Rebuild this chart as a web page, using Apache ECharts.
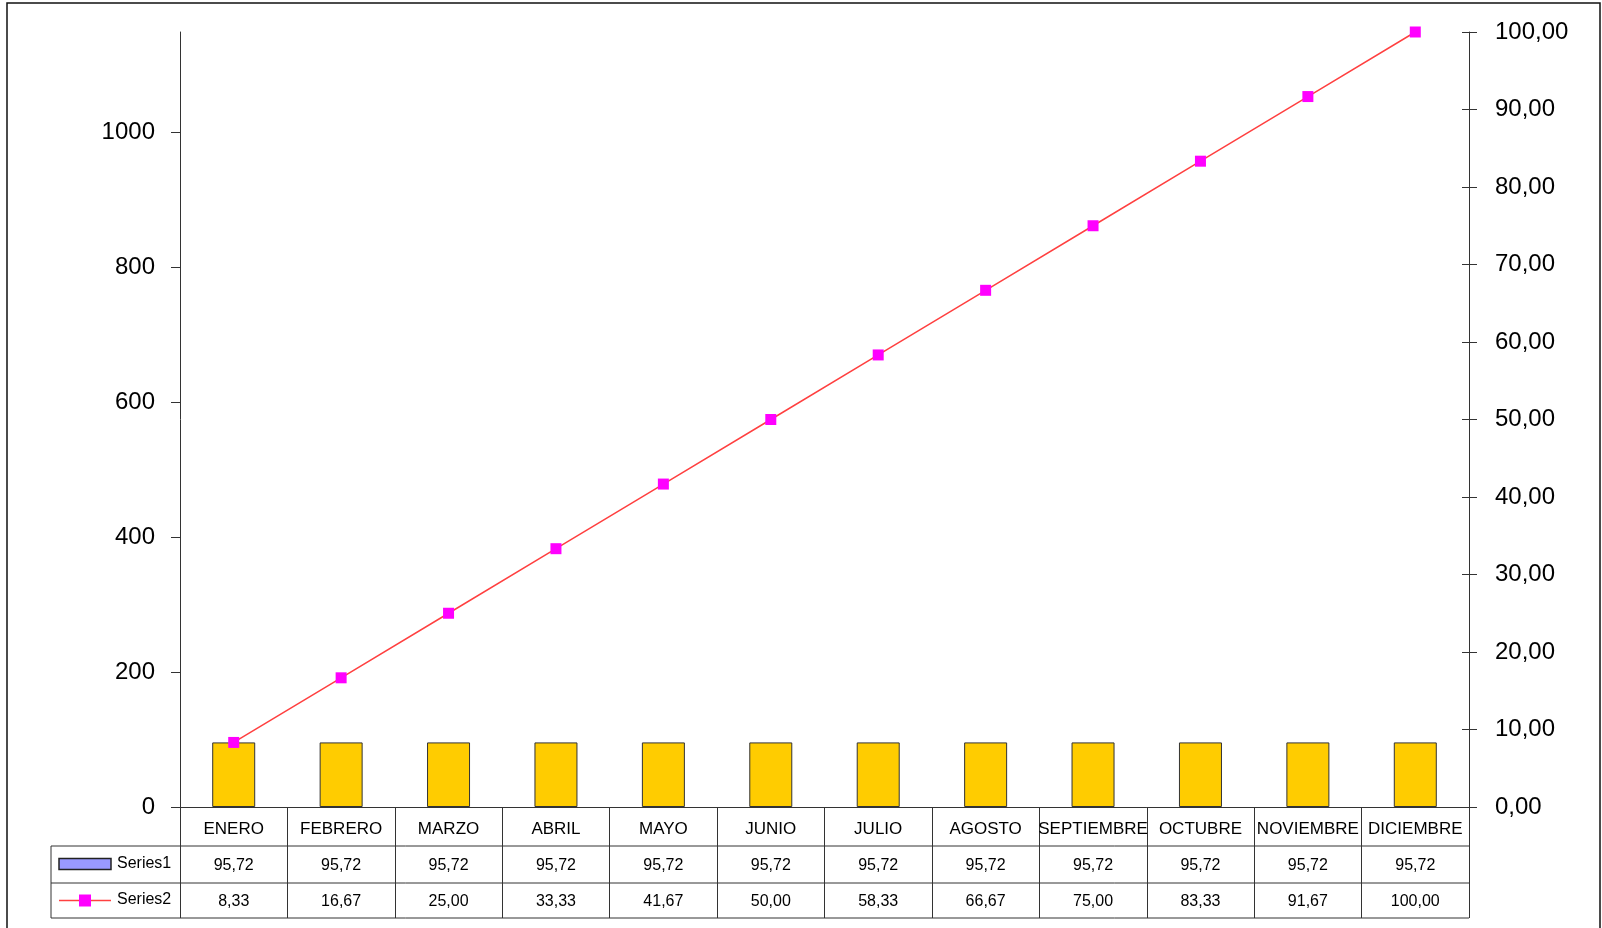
<!DOCTYPE html>
<html>
<head>
<meta charset="utf-8">
<script src="https://cdn.jsdelivr.net/npm/echarts@6/dist/echarts.min.js"></script>
<style>
  html, body { margin: 0; padding: 0; background: #fff; }
  #chart { width: 1602px; height: 928px; }
</style>
</head>
<body>
<div id="chart"></div>
<script>
var months = ['ENERO', 'FEBRERO', 'MARZO', 'ABRIL', 'MAYO', 'JUNIO', 'JULIO', 'AGOSTO', 'SEPTIEMBRE', 'OCTUBRE', 'NOVIEMBRE', 'DICIEMBRE'];
var series1 = [95.72, 95.72, 95.72, 95.72, 95.72, 95.72, 95.72, 95.72, 95.72, 95.72, 95.72, 95.72];
var series2 = [8.33, 16.67, 25.00, 33.33, 41.67, 50.00, 58.33, 66.67, 75.00, 83.33, 91.67, 100.00];
var leftTicks = [0, 200, 400, 600, 800, 1000];
var leftMax = 1148.64;
var rightTicks = [0, 10, 20, 30, 40, 50, 60, 70, 80, 90, 100];

var font = '"Liberation Sans", Arial, sans-serif';
var lineCol = '#333';

function comma(v) {
    return v.toFixed(2).replace('.', ',');
}

var chart = echarts.init(document.getElementById('chart'));

var option = {
    animation: false,
    backgroundColor: '#fff',
    textStyle: { fontFamily: font },
    grid: { left: 180, right: 133, top: 32, bottom: 121 },
    xAxis: {
        type: 'category',
        data: months,
        axisLine: { lineStyle: { color: lineCol, width: 1 } },
        axisTick: { show: true, length: 111, alignWithLabel: false, lineStyle: { color: lineCol } },
        axisLabel: {
            interval: 0,
            margin: 14,
            fontSize: 17,
            fontFamily: font,
            color: '#000'
        }
    },
    yAxis: [
        {
            type: 'value',
            min: 0,
            max: leftMax,
            position: 'left',
            splitLine: { show: false },
            axisLine: { show: true, lineStyle: { color: lineCol } },
            axisTick: { show: true, length: 9, customValues: leftTicks, lineStyle: { color: lineCol } },
            axisLabel: {
                customValues: leftTicks, margin: 25, fontSize: 24, fontFamily: font, color: '#000',
                formatter: function (v) { return String(v); }
            }
        },
        {
            type: 'value',
            min: 0,
            max: 100,
            interval: 10,
            position: 'right',
            splitLine: { show: false },
            axisLine: { show: true, lineStyle: { color: lineCol } },
            axisTick: { show: true, length: 8, customValues: rightTicks, lineStyle: { color: lineCol } },
            axisLabel: { customValues: rightTicks, margin: 26, fontSize: 24, fontFamily: font, color: '#000', formatter: function (v) { return comma(v); } }
        },
        {
            // inner half of the crossing ticks on the right axis
            type: 'value',
            min: 0,
            max: 100,
            interval: 10,
            position: 'right',
            splitLine: { show: false },
            axisLine: { show: false },
            axisTick: { show: true, inside: true, length: 7, customValues: rightTicks, lineStyle: { color: lineCol } },
            axisLabel: { show: false }
        }
    ],
    series: [
        {
            name: 'Series1',
            type: 'bar',
            yAxisIndex: 0,
            data: series1,
            barWidth: 43,
            itemStyle: { color: '#FFCC00', borderColor: '#333', borderWidth: 1 }
        },
        {
            name: 'Series2',
            type: 'line',
            yAxisIndex: 1,
            data: series2,
            symbol: 'rect',
            symbolSize: 11,
            lineStyle: { color: '#FF4040', width: 1.5 },
            itemStyle: { color: '#FF00FF', borderWidth: 0 }
        }
    ]
};

chart.setOption(option);

// data table under the chart
var x0 = chart.convertToPixel({ xAxisIndex: 0 }, 0);
var x1 = chart.convertToPixel({ xAxisIndex: 0 }, 1);
var colW = x1 - x0;
var tableLeft = 51;
var axisLeft = x0 - colW / 2;
var axisRight = axisLeft + colW * months.length;
var yTop = chart.convertToPixel({ yAxisIndex: 0 }, 0);
var rowLines = [yTop + 39, yTop + 76, yTop + 111];
var mid1 = (rowLines[0] + rowLines[1]) / 2;
var mid2 = (rowLines[1] + rowLines[2]) / 2;

var graphics = [];
rowLines.forEach(function (y) {
    graphics.push({
        type: 'line',
        shape: { x1: tableLeft, y1: y, x2: axisRight, y2: y },
        style: { stroke: lineCol, lineWidth: 1 }
    });
});
graphics.push({
    type: 'line',
    shape: { x1: tableLeft, y1: rowLines[0], x2: tableLeft, y2: rowLines[2] },
    style: { stroke: lineCol, lineWidth: 1 }
});

function addRow(values, yMid) {
    values.forEach(function (v, i) {
        graphics.push({
            type: 'text',
            x: chart.convertToPixel({ xAxisIndex: 0 }, i),
            y: yMid,
            style: {
                text: comma(v),
                fontSize: 16,
                fontFamily: font,
                fill: '#000',
                align: 'center',
                verticalAlign: 'middle'
            }
        });
    });
}
addRow(series1, mid1 + 1);
addRow(series2, mid2 + 1);

// legend keys in the table's first column
graphics.push({
    type: 'rect',
    shape: { x: 59, y: mid1 - 6, width: 52, height: 11 },
    style: { fill: '#9999FF', stroke: '#222', lineWidth: 1.5 }
});
graphics.push({
    type: 'line',
    shape: { x1: 59, y1: mid2, x2: 111, y2: mid2 },
    style: { stroke: '#FF4040', lineWidth: 1.5 }
});
graphics.push({
    type: 'rect',
    shape: { x: 79, y: mid2 - 6, width: 12, height: 12 },
    style: { fill: '#FF00FF' }
});
[['Series1', mid1], ['Series2', mid2]].forEach(function (it) {
    graphics.push({
        type: 'text',
        x: 117,
        y: it[1] - 1,
        style: { text: it[0], fontSize: 16, fontFamily: font, fill: '#000', verticalAlign: 'middle' }
    });
});

// outer frame
graphics.push({
    type: 'rect',
    shape: { x: 7, y: 3, width: 1593, height: 960 },
    style: { fill: 'none', stroke: '#111', lineWidth: 1.5 }
});

chart.setOption({ graphic: graphics });
</script>
</body>
</html>
